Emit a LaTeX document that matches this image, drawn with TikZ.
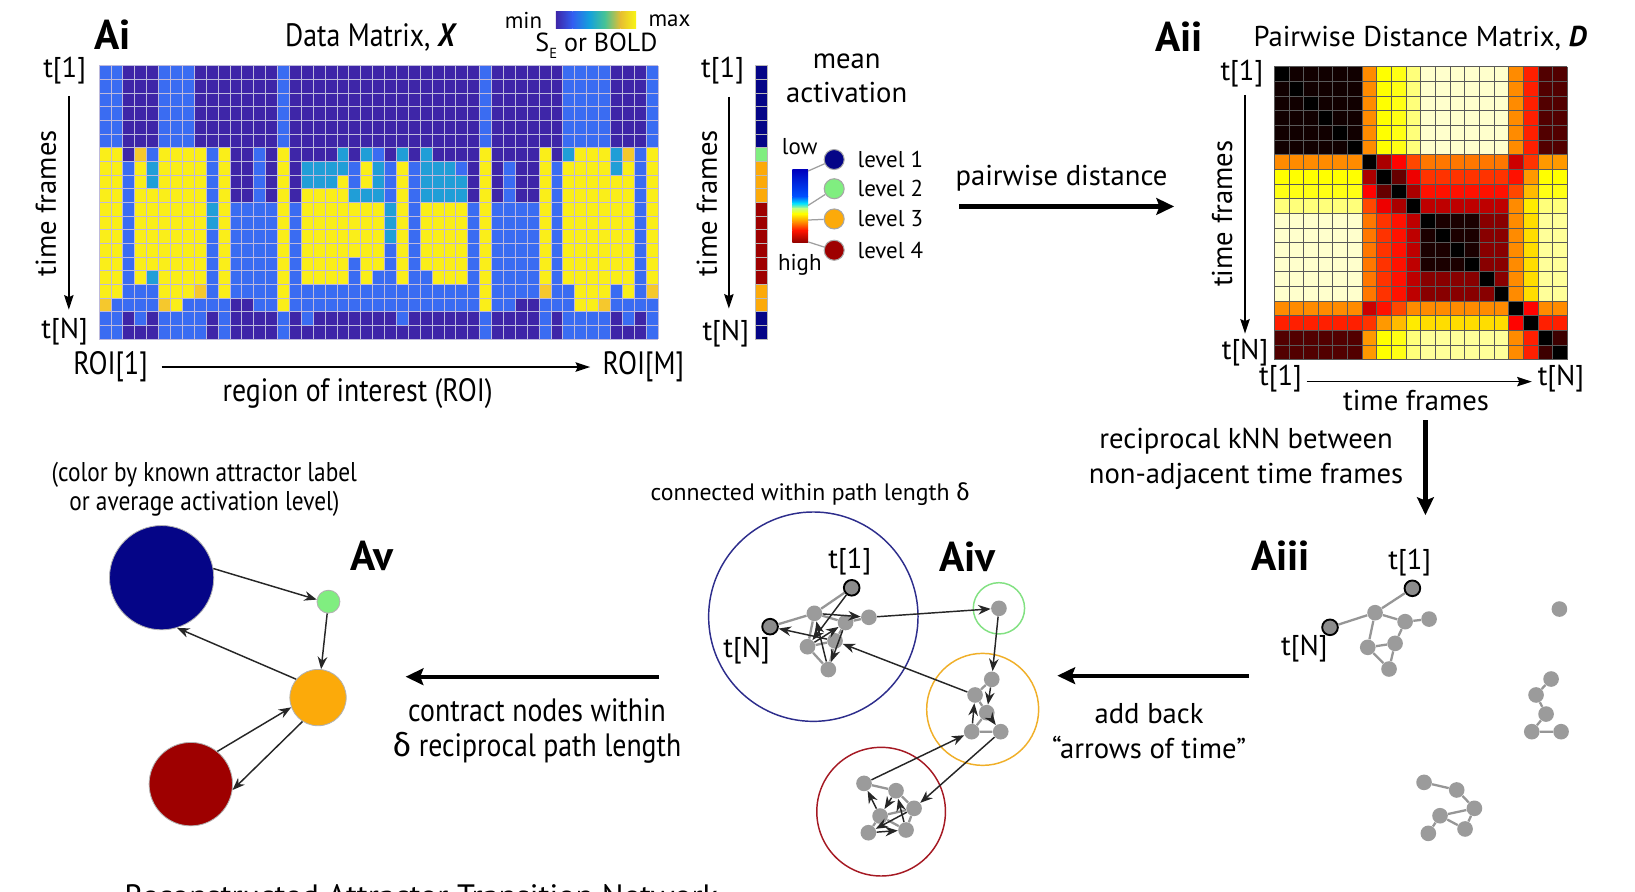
\documentclass[tikz,border=0pt]{standalone}
\usepackage{fontspec}
\setmainfont{PT Sans}
\newfontfamily\condf[FakeStretch=0.86]{PT Sans}
\newfontfamily\grkf{Fira Sans}
\usetikzlibrary{arrows.meta}
\definecolor{Xd}{RGB}{62,38,168}
\definecolor{Xb}{RGB}{58,108,242}
\definecolor{Xl}{RGB}{32,158,215}
\definecolor{Xy}{RGB}{250,238,25}
\definecolor{Xo}{RGB}{245,200,45}
\definecolor{Xgrid}{RGB}{190,186,220}
\definecolor{Lnavy}{RGB}{5,5,135}
\definecolor{Lgreen}{RGB}{128,238,128}
\definecolor{Lorange}{RGB}{252,170,10}
\definecolor{Lred}{RGB}{158,0,0}
\definecolor{dotgray}{RGB}{155,155,155}
\definecolor{enddot}{RGB}{140,140,140}
\definecolor{edgegray}{RGB}{150,150,150}
\definecolor{cBlue}{RGB}{45,45,140}
\definecolor{cGreen}{RGB}{130,225,130}
\definecolor{cOrange}{RGB}{240,175,40}
\definecolor{cRed}{RGB}{165,25,35}
\definecolor{pa0}{RGB}{62,38,168}
\definecolor{pa1}{RGB}{50,95,240}
\definecolor{pa2}{RGB}{20,160,220}
\definecolor{pa3}{RGB}{70,195,150}
\definecolor{pa4}{RGB}{230,190,50}
\definecolor{pa5}{RGB}{249,245,20}
\definecolor{jt0}{RGB}{0,0,190}
\definecolor{jt1}{RGB}{0,80,255}
\definecolor{jt2}{RGB}{0,225,255}
\definecolor{jt3}{RGB}{200,255,120}
\definecolor{jt4}{RGB}{255,255,0}
\definecolor{jt5}{RGB}{255,140,0}
\definecolor{jt6}{RGB}{255,20,0}
\definecolor{jt7}{RGB}{140,0,0}
\newcount\xrowc
\newcommand\xcolumn[2]{%
  \global\xrowc=0
  \foreach \cc/\nn in {#2}{%
    \foreach \kk in {1,...,\nn}{%
      \global\advance\xrowc by 1
      \pgfmathsetmacro\xx{95+(#1-1)*11.404}%
      \pgfmathsetmacro\yy{63+(\the\xrowc-1)*13.1}%
      \edef\cname{X\cc}%
      \fill[fill=\cname] (\xx,\yy) rectangle ++(11.404,13.1);
    }%
  }%
}
\def\grp{{0,0,0,0,0,0,1,2,3,4,5,5,5,5,5,5,6,7,8,8}}
\def\Dtab{{0.025,0.58,0.75,0.77,0.87,0.95,0.58,0.42,0.12,
0.58,0.00,0.25,0.38,0.48,0.55,0.30,0.45,0.60,
0.75,0.25,0.00,0.15,0.35,0.45,0.40,0.60,0.75,
0.77,0.38,0.15,0.00,0.25,0.40,0.48,0.65,0.77,
0.87,0.48,0.35,0.25,0.00,0.28,0.58,0.72,0.87,
0.95,0.55,0.45,0.40,0.28,0.05,0.58,0.70,0.90,
0.58,0.30,0.40,0.48,0.58,0.58,0.00,0.38,0.58,
0.42,0.45,0.60,0.65,0.72,0.70,0.38,0.00,0.42,
0.12,0.60,0.75,0.77,0.87,0.90,0.58,0.42,0.09}}
\begin{document}
\begin{tikzpicture}[x=0.5pt,y=-0.5pt,
  lab/.style={font=\fontsize{13.75}{17}\selectfont, inner sep=0pt, align=center},
  smalllab/.style={font=\fontsize{11}{13}\selectfont, inner sep=0pt},
  tinylab/.style={font=\fontsize{11.4}{13}\selectfont, inner sep=0pt},
  biglab/.style={font=\bfseries\fontsize{20}{22}\selectfont, inner sep=0pt},
  cnd/.style={font=\condf\fontsize{15.5}{16.5}\selectfont, inner sep=0pt, align=center},
  cndsmall/.style={font=\condf\fontsize{13}{14}\selectfont, inner sep=0pt, align=center},
  thinarr/.style={-{Stealth[length=7pt,width=4.5pt,inset=1pt]}, line width=0.7pt},
  thickarr/.style={-{Stealth[length=8.5pt,width=8pt,inset=1.5pt]}, line width=2pt},
  blk/.style={-{Stealth[length=6pt,width=4.6pt]}, line width=0.7pt, draw=black!85},
  gedge/.style={draw=edgegray, line width=1.1pt},
  gdot/.style={circle, fill=dotgray, minimum size=7.5pt, inner sep=0pt},
  endp/.style={fill=enddot, draw=black, line width=0.9pt},
  lvdot/.style={circle, draw=gray!70, line width=0.5pt, minimum size=9.6pt, inner sep=0pt},
  avnode/.style={circle, draw=gray!60, line width=0.4pt, inner sep=0pt},
  xgrid/.style={draw=Xgrid, line width=0.35pt},
  lvline/.style={draw=gray!75, line width=0.6pt}]
\useasboundingbox (0,0) rectangle (1568,855);
\fill[white] (0,0) rectangle (1568,855);

%% ---------------- Ai : data matrix ----------------
\xcolumn{1}{b/6,y/11,o/1,b/2}
\xcolumn{2}{b/6,y/11,b/3}
\xcolumn{3}{d/7,b/11,d/2}
\xcolumn{4}{d/6,o/1,y/9,b/3,d/1}
\xcolumn{5}{d/6,b/1,l/2,y/6,l/1,b/2,d/2}
\xcolumn{6}{b/6,y/11,o/1,b/2}
\xcolumn{7}{b/6,y/12,b/2}
\xcolumn{8}{b/6,y/11,b/3}
\xcolumn{9}{d/6,y/10,o/1,b/3}
\xcolumn{10}{d/6,b/4,l/2,b/6,d/2}
\xcolumn{11}{d/6,y/11,b/3}
\xcolumn{12}{d/10,b/7,d/3}
\xcolumn{13}{d/10,b/7,d/3}
\xcolumn{14}{d/6,b/12,d/2}
\xcolumn{15}{d/10,b/8,d/2}
\xcolumn{16}{b/6,y/12,b/2}
\xcolumn{17}{d/10,b/8,d/2}
\xcolumn{18}{d/7,l/2,y/7,b/3,d/1}
\xcolumn{19}{d/7,l/2,y/7,b/2,d/2}
\xcolumn{20}{d/7,l/2,y/7,b/2,d/2}
\xcolumn{21}{d/6,l/2,y/8,b/2,d/2}
\xcolumn{22}{d/7,b/2,l/1,y/4,b/4,d/2}
\xcolumn{23}{d/6,l/1,y/2,l/1,y/6,b/2,d/2}
\xcolumn{24}{d/6,b/1,l/3,y/5,b/3,d/2}
\xcolumn{25}{d/7,b/3,l/3,b/5,d/2}
\xcolumn{26}{d/6,l/1,y/9,b/3,d/1}
\xcolumn{27}{d/7,b/11,d/2}
\xcolumn{28}{d/6,l/4,y/5,b/3,d/2}
\xcolumn{29}{d/7,l/3,y/6,b/2,d/2}
\xcolumn{30}{d/7,l/3,y/6,b/2,d/2}
\xcolumn{31}{d/7,b/1,l/2,y/6,b/2,d/2}
\xcolumn{32}{d/10,b/8,d/2}
\xcolumn{33}{b/6,y/12,b/2}
\xcolumn{34}{d/10,b/8,d/2}
\xcolumn{35}{d/7,b/11,d/2}
\xcolumn{36}{d/10,b/7,d/3}
\xcolumn{37}{d/10,b/7,d/3}
\xcolumn{38}{d/6,y/10,o/1,b/3}
\xcolumn{39}{d/7,b/11,d/2}
\xcolumn{40}{b/6,l/1,y/9,b/4}
\xcolumn{41}{b/6,y/12,b/2}
\xcolumn{42}{b/6,y/12,b/2}
\xcolumn{43}{b/6,y/11,o/1,b/2}
\xcolumn{44}{d/6,l/2,y/8,b/2,d/2}
\xcolumn{45}{d/6,o/1,y/10,b/2,d/1}
\xcolumn{46}{d/6,b/12,d/2}
\xcolumn{47}{b/6,y/10,o/1,b/3}
\foreach \i in {0,...,47} \draw[xgrid] ({95+\i*11.404},63) -- ++(0,262);
\foreach \j in {0,...,20} \draw[xgrid] (95,{63+\j*13.1}) -- ++(536,0);

\node[biglab] (Ai) at (108,33) {Ai};
\node[lab] (titleX) at (356,36) {{\condf\fontsize{15.5}{17}\selectfont Data Matrix, \textbf{\textit{X}}}};
\node[smalllab] (minlab) at (502,20) {min};
\node[smalllab] (maxlab) at (642,20) {max};
\shade[left color=pa0, right color=pa1] (533,11) rectangle (549,27);
\shade[left color=pa1, right color=pa2] (549,11) rectangle (565,27);
\shade[left color=pa2, right color=pa3] (565,11) rectangle (580,27);
\shade[left color=pa3, right color=pa4] (580,11) rectangle (595,27);
\shade[left color=pa4, right color=pa5] (595,11) rectangle (610,27);
\node[font=\fontsize{12.5}{14}\selectfont, inner sep=0pt] (selab) at (572,44) {S\raisebox{-0.55ex}{\fontsize{7}{8}\selectfont E} or BOLD};

\node[lab] (At1) at (62,68) {t[1]};
\node[lab] (AtN) at (62,318) {t[N]};
\coordinate (AaTop) at (66,92);
\coordinate (AaBot) at (66,297);
\draw[thinarr] (AaTop) -- (AaBot);
\node[lab, rotate=90] (Atf) at (44,195) {time frames};
\node[cnd] (roi1) at (106,352) {ROI[1]};
\node[cnd] (roiM) at (617,352) {ROI[M]};
\coordinate (roiA) at (155,352);
\coordinate (roiB) at (566,352);
\draw[thinarr] (roiA) -- (roiB);
\node[cnd] (roilab) at (343,377) {region of interest (ROI)};

%% ---------------- mean activation ----------------
\foreach \c [count=\k from 0] in {Lnavy,Lnavy,Lnavy,Lnavy,Lnavy,Lnavy,Lgreen,Lorange,Lorange,Lorange,Lred,Lred,Lred,Lred,Lred,Lred,Lorange,Lorange,Lnavy,Lnavy}
  \fill[fill=\c, draw=gray!55, line width=0.3pt] (724,{63+\k*13.1}) rectangle ++(12,13.1);
\node[lab] (Mt1) at (693,68) {t[1]};
\node[lab] (MtN) at (696,320) {t[N]};
\coordinate (MaTop) at (699,93);
\coordinate (MaBot) at (699,296);
\draw[thinarr] (MaTop) -- (MaBot);
\node[lab, rotate=90] (Mtf) at (678,195) {time frames};
\node[lab, font=\fontsize{13.75}{16.5}\selectfont] (meanact) at (812,75) {mean\\activation};
\node[smalllab] (lowlab) at (767,141) {low};
\node[smalllab] (highlab) at (767,254) {high};
\shade[top color=jt0, bottom color=jt1] (760,163) rectangle (775,188);
\shade[top color=jt1, bottom color=jt2] (760,188) rectangle (775,195);
\shade[top color=jt2, bottom color=jt3] (760,195) rectangle (775,200);
\shade[top color=jt3, bottom color=jt4] (760,200) rectangle (775,205);
\shade[top color=jt4, bottom color=jt5] (760,205) rectangle (775,213);
\shade[top color=jt5, bottom color=jt6] (760,213) rectangle (775,221);
\shade[top color=jt6, bottom color=jt7] (760,221) rectangle (775,233);
\node[lvdot, fill=Lnavy] (lv1) at (800,153) {};
\node[lvdot, fill=Lgreen] (lv2) at (800,181) {};
\node[lvdot, fill=Lorange] (lv3) at (800,210) {};
\node[lvdot, fill=Lred] (lv4) at (800,240) {};
\coordinate (jb1) at (775,164);
\coordinate (jb2) at (775,197);
\coordinate (jb3) at (775,211);
\coordinate (jb4) at (775,232);
\draw[lvline] (jb1) -- (lv1);
\draw[lvline] (jb2) -- (lv2);
\draw[lvline] (jb3) -- (lv3);
\draw[lvline] (jb4) -- (lv4);
\node[smalllab, anchor=west] (lt1) at (822,153) {level 1};
\node[smalllab, anchor=west] (lt2) at (822,181) {level 2};
\node[smalllab, anchor=west] (lt3) at (822,210) {level 3};
\node[smalllab, anchor=west] (lt4) at (822,240) {level 4};

%% pairwise distance arrow
\node[lab] (pwlab) at (1018,171) {pairwise distance};
\coordinate (pwA) at (920,198);
\coordinate (pwB) at (1126,198);
\draw[thickarr] (pwA) -- (pwB);

%% ---------------- Aii : distance matrix ----------------
\foreach \i in {0,...,19}{
  \foreach \j in {0,...,19}{
    \pgfmathtruncatemacro\gi{\grp[\i]}
    \pgfmathtruncatemacro\gj{\grp[\j]}
    \pgfmathsetmacro\hv{\Dtab[\gi*9+\gj]}
    \ifnum\i=\j \def\hv{0}\fi
    \ifnum\gi=5 \ifnum\gj=5 \ifnum\i=\j \else \pgfmathsetmacro\hv{(max(\i,\j)>13) ? 0.2 : 0.04}\fi\fi\fi
    \pgfmathsetmacro\cR{min(1,\hv/0.375)}
    \pgfmathsetmacro\cG{min(1,max(0,(\hv-0.375)/0.375))}
    \pgfmathsetmacro\cB{min(1,max(0,(\hv-0.75)/0.25))}
    \definecolor{dcell}{rgb}{\cR,\cG,\cB}
    \fill[dcell] ({1222+\j*14.05},{64+\i*14.05}) rectangle ++(14.05,14.05);
  }
}
\foreach \i in {0,...,20} {
  \draw[draw=gray!70!black, line width=0.35pt] ({1222+\i*14.05},64) -- ++(0,281);
  \draw[draw=gray!70!black, line width=0.35pt] (1222,{64+\i*14.05}) -- ++(281,0);
}
\node[biglab] (Aii) at (1131,35) {Aii};
\node[lab] (titleD) at (1362,37) {Pairwise Distance Matrix, \textbf{\textit{D}}};
\node[lab] (Dt1) at (1191,71) {t[1]};
\node[lab] (DtN) at (1194,338) {t[N]};
\coordinate (DaTop) at (1194,91);
\coordinate (DaBot) at (1194,320);
\draw[thinarr] (DaTop) -- (DaBot);
\node[lab, rotate=90] (Dtf) at (1172,205) {time frames};
\node[lab] (Dbt1) at (1228,363) {t[1]};
\node[lab] (DbtN) at (1497,363) {t[N]};
\coordinate (DbA) at (1253,366);
\coordinate (DbB) at (1469,366);
\draw[thinarr] (DbA) -- (DbB);
\node[lab] (Dbtf) at (1358,384) {time frames};

%% kNN arrow
\node[lab] (knnlab) at (1195,440) {reciprocal kNN between\\non-adjacent time frames};
\coordinate (knA) at (1367,403);
\coordinate (knB) at (1367,494);
\draw[thickarr] (knA) -- (knB);

%% ---------------- Aiii ----------------
\node[biglab] (Aiii) at (1228,533) {Aiii};
\node[gdot,endp] (a3t1) at (1354.5,564.2) {};
\node[gdot,endp] (a3tN) at (1275.5,601.6) {};
\node[gdot] (a3a) at (1318.7,587.6) {};
\node[gdot] (a3b) at (1347.5,596.2) {};
\node[gdot] (a3c) at (1370.5,593.7) {};
\node[gdot] (a3d) at (1337.9,617) {};
\node[gdot] (a3e) at (1311.7,620.8) {};
\node[gdot] (a3f) at (1332.1,641.6) {};
\draw[gedge] (a3tN) -- (a3a) -- (a3t1);
\draw[gedge] (a3a) -- (a3b) -- (a3c);
\draw[gedge] (a3a) -- (a3e) -- (a3f) -- (a3d) -- (a3b);
\draw[gedge] (a3e) -- (a3d);
\node[lab] (a3t1lab) at (1352,540) {t[1]};
\node[lab] (a3tNlab) at (1251,622) {t[N]};
\node[gdot] (a3lone) at (1495.5,584.1) {};
\node[gdot] (a3g1) at (1487.5,651.2) {};
\node[gdot] (a3g2) at (1473.1,666.5) {};
\node[gdot] (a3g3) at (1482.7,684.8) {};
\node[gdot] (a3g4) at (1469,701.7) {};
\node[gdot] (a3g5) at (1497.1,701.7) {};
\draw[gedge] (a3g1) -- (a3g2) -- (a3g3) -- (a3g4) -- (a3g5);
\node[gdot] (a3h1) at (1365.7,750.3) {};
\node[gdot] (a3h2) at (1397,757.6) {};
\node[gdot] (a3h3) at (1414,775.2) {};
\node[gdot] (a3h4) at (1381,782.3) {};
\node[gdot] (a3h5) at (1405,795) {};
\node[gdot] (a3h6) at (1369.8,799.2) {};
\draw[gedge] (a3h1) -- (a3h2) -- (a3h3) -- (a3h4) -- (a3h6);
\draw[gedge] (a3h4) -- (a3h5) -- (a3h3);

%% add back arrow
\coordinate (abA) at (1198,648);
\coordinate (abB) at (1014,648);
\draw[thickarr] (abA) -- (abB);
\node[lab] (ablab) at (1102,701) {add back\\“arrows of time”};

%% ---------------- Aiv ----------------
\node[tinylab] (conlab) at (777,474) {connected within path length {\grkf δ}};
\node[biglab] (Aiv) at (928,534) {Aiv};
\draw[cBlue, line width=0.7pt] (780,591.4) circle (100.4);
\draw[cGreen, line width=0.7pt] (958,583.4) circle (24.6);
\draw[cOrange, line width=0.7pt] (942.4,680.3) circle (53.7);
\draw[cRed, line width=0.7pt] (845,778.4) circle (61.7);
% blue cluster
\node[gdot,endp] (v4t1) at (816.8,563.7) {};
\node[gdot,endp] (v4tN) at (738.5,601) {};
\node[gdot] (v4n1) at (781,588.2) {};
\node[gdot] (v4n3) at (810.9,597) {};
\node[gdot] (v4n2) at (833.3,592) {};
\node[gdot] (v4n5) at (800.8,614.6) {};
\node[gdot] (v4n4) at (774.4,620.2) {};
\node[gdot] (v4n6) at (794.4,642.1) {};
\draw[gedge] (v4tN) -- (v4n1) -- (v4t1);
\draw[gedge] (v4n1) -- (v4n3) -- (v4n2);
\draw[gedge] (v4n1) -- (v4n4) -- (v4n6) -- (v4n5) -- (v4n3);
\draw[gedge] (v4n4) -- (v4n5);
\node[lab] (v4t1lab) at (815,539) {t[1]};
\node[lab] (v4tNlab) at (716,624) {t[N]};
% green
\node[gdot] (v4g) at (958,583.4) {};
% orange cluster
\node[gdot] (v4o1) at (951.1,651.5) {};
\node[gdot] (v4o2) at (935.1,666.5) {};
\node[gdot] (v4o3) at (946.3,683.5) {};
\node[gdot] (v4o4) at (931.9,701.7) {};
\node[gdot] (v4o5) at (959.7,701.7) {};
\draw[gedge] (v4o1) -- (v4o2) -- (v4o3) -- (v4o4) -- (v4o5);
% red cluster
\node[gdot] (v4r1) at (828.6,751.3) {};
\node[gdot] (v4r2) at (859.3,758.3) {};
\node[gdot] (v4r3) at (876.6,775.2) {};
\node[gdot] (v4r4) at (844,782.6) {};
\node[gdot] (v4r5) at (868.9,796) {};
\node[gdot] (v4r6) at (832.8,798.6) {};
\draw[gedge] (v4r1) -- (v4r2) -- (v4r3) -- (v4r4) -- (v4r6);
\draw[gedge] (v4r4) -- (v4r5) -- (v4r3);
% arrows of time
\draw[blk] (v4t1) -- (v4n4);
\draw[blk] (v4n4) -- (v4n3);
\draw[blk] (v4n3) -- (v4n6);
\draw[blk] (v4n6) -- (v4n1);
\draw[blk] (v4n1) -- (v4n2);
\draw[blk] (v4n2) -- (v4g);
\draw[blk] (v4g) -- (v4o1);
\draw[blk] (v4o1) -- (v4o3);
\draw[blk] (v4o3) -- (v4o5);
\draw[blk] (v4o5) -- (v4r3);
\draw[blk] (v4r3) -- (v4r6);
\draw[blk] (v4r6) -- (v4r5);
\draw[blk] (v4r5) -- (v4r2);
\draw[blk] (v4r2) -- (v4r4);
\draw[blk] (v4r4) -- (v4r1);
\draw[blk] (v4r1) -- (v4o4);
\draw[blk] (v4o4) -- (v4o2);
\draw[blk] (v4o2) -- (v4n5);
\draw[blk] (v4n5) -- (v4tN);

%% contract arrow
\coordinate (ctA) at (632,649);
\coordinate (ctB) at (389,649);
\draw[thickarr] (ctA) -- (ctB);
\node[cnd] (ctlab) at (515,701) {contract nodes within\\{\grkf δ} reciprocal path length};

%% ---------------- Av ----------------
\node[cndsmall] (avlab) at (196,469) {(color by known attractor label\\or average activation level)};
\node[biglab] (Av) at (357,533) {Av};
\node[avnode, fill=Lnavy, minimum size=50pt] (avB) at (155,554) {};
\node[avnode, fill=Lgreen, minimum size=11pt] (avG) at (315,577) {};
\node[avnode, fill=Lorange, minimum size=27pt] (avO) at (305,669) {};
\node[avnode, fill=Lred, minimum size=40pt] (avR) at (183,752) {};
\draw[blk] (avB.10) -- (avG.170);
\draw[blk] (avG) -- (avO);
\draw[blk] (avO.140) -- (avB.-73);
\draw[blk] (avR.51) -- (avO.200);
\draw[blk] (avO.-123) -- (avR.-8);

\node[lab, anchor=base, font=\fontsize{15.5}{17}\selectfont] (bottomlab) at (404,870) {Reconstructed Attractor Transition Network};
\end{tikzpicture}
\end{document}
